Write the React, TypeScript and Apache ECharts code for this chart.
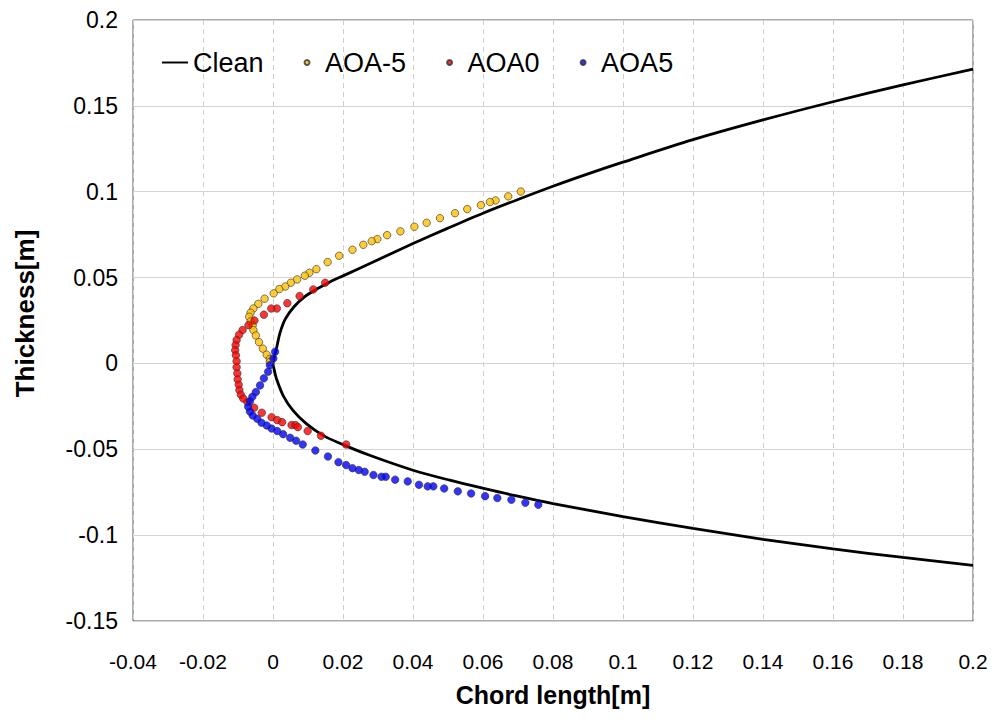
import React, { useEffect, useRef } from "react";
import * as echarts from "echarts";

// Clean airfoil contour (upper surface from trailing side to nose, lower surface from nose)
const cleanUpper: number[][] = [
  [0.2, 0.1714], [0.18, 0.1622], [0.16, 0.1524], [0.14, 0.1418], [0.12, 0.1303],
  [0.1, 0.1172], [0.09, 0.1104], [0.08, 0.1032], [0.07, 0.0955], [0.06, 0.0875],
  [0.05, 0.0788], [0.04, 0.0698], [0.028, 0.0585], [0.02, 0.051], [0.016, 0.0472],
  [0.0125, 0.0433], [0.009, 0.0388], [0.006, 0.033], [0.0035, 0.0258], [0.002, 0.0178],
  [0.001, 0.0088], [0.0004, 0.0042], [0, 0],
];
const cleanLower: number[][] = [
  [0.0004, -0.0042], [0.001, -0.009], [0.0029, -0.0187], [0.0057, -0.0274], [0.0095, -0.0351],
  [0.0143, -0.0419], [0.02, -0.0473], [0.0276, -0.0535], [0.04, -0.0622], [0.0505, -0.068],
  [0.0602, -0.0728], [0.0696, -0.0772], [0.08, -0.0816], [0.1, -0.0892], [0.12, -0.096],
  [0.14, -0.1024], [0.16, -0.108], [0.18, -0.113], [0.2, -0.1176],
];

const aoaM5: number[][] = [
  [0.0708, 0.1001], [0.0672, 0.0973], [0.0636, 0.0949], [0.062, 0.094], [0.0594, 0.0922],
  [0.0555, 0.0899], [0.052, 0.0875], [0.0477, 0.0846], [0.0439, 0.0819], [0.0404, 0.0796],
  [0.0364, 0.0769], [0.0326, 0.0747], [0.0298, 0.0724], [0.0282, 0.0712], [0.0258, 0.0691],
  [0.0227, 0.0662], [0.0189, 0.0627], [0.0156, 0.059], [0.0124, 0.0549], [0.0104, 0.0528],
  [0.0091, 0.0511], [0.0069, 0.0489], [0.0051, 0.047], [0.0035, 0.0448], [0.0018, 0.0433],
  [0.0002, 0.0408], [-0.0024, 0.0377], [-0.0042, 0.0347], [-0.0056, 0.032], [-0.0064, 0.0295],
  [-0.0068, 0.0272], [-0.0064, 0.0245], [-0.0058, 0.0221], [-0.0056, 0.0194], [-0.0049, 0.0163],
  [-0.004, 0.0124], [-0.0029, 0.0086], [-0.0018, 0.0051], [-0.0009, 0.0027], [-0.0009, 0.0008],
];

const aoa0: number[][] = [
  [0.0149, 0.047], [0.0115, 0.0431], [0.0076, 0.0392], [0.0041, 0.0351], [0.0011, 0.032],
  [-0.0005, 0.032], [-0.0026, 0.0284], [-0.0053, 0.025], [-0.007, 0.0223], [-0.0087, 0.0194],
  [-0.0097, 0.0167], [-0.0104, 0.0136], [-0.0107, 0.0107], [-0.0108, 0.0077], [-0.0106, 0.0047],
  [-0.0104, 0.0013], [-0.0104, -0.0022], [-0.0102, -0.0058], [-0.0101, -0.0093], [-0.0098, -0.0124],
  [-0.0096, -0.0155], [-0.0092, -0.0182], [-0.0085, -0.0204], [-0.0073, -0.0225], [-0.0054, -0.0258],
  [-0.0032, -0.0287], [-0.0004, -0.0313], [0.0012, -0.033], [0.0026, -0.0342], [0.0053, -0.0359],
  [0.0064, -0.0359], [0.0071, -0.0371], [0.0099, -0.0394], [0.0137, -0.0421], [0.0209, -0.0472],
];

const aoa5: number[][] = [
  [0.0006, 0.0068], [0.0001, 0.0029], [-0.0009, -0.001], [-0.0014, -0.0048], [-0.0026, -0.0087],
  [-0.0037, -0.0128], [-0.0049, -0.0167], [-0.0059, -0.0194], [-0.0066, -0.0221], [-0.0071, -0.0252],
  [-0.0066, -0.028], [-0.0058, -0.0303], [-0.0045, -0.0322], [-0.0033, -0.0345], [-0.0018, -0.0361],
  [-0.0004, -0.0379], [0.0012, -0.0394], [0.0029, -0.0412], [0.0049, -0.0433], [0.0066, -0.045],
  [0.0085, -0.0472], [0.0121, -0.0507], [0.0157, -0.0542], [0.0187, -0.0575], [0.0209, -0.0592],
  [0.0227, -0.061], [0.0245, -0.0621], [0.0262, -0.0631], [0.0287, -0.065], [0.031, -0.066],
  [0.0322, -0.066], [0.0349, -0.0677], [0.0385, -0.0687], [0.0417, -0.0707], [0.0442, -0.0716],
  [0.0458, -0.0716], [0.0489, -0.0728], [0.0528, -0.0745], [0.0566, -0.0757], [0.0606, -0.0773],
  [0.0641, -0.0784], [0.0681, -0.0794], [0.0721, -0.0811], [0.0758, -0.0823],
];

const seriesNames = ["Clean", "AOA-5", "AOA0", "AOA5"];
const xRange = { min: -0.04, max: 0.2, interval: 0.02 };
const yRange = { min: -0.15, max: 0.2, interval: 0.05 };

const fmt = (v: number) => String(Number(v.toFixed(2)));

export default function App() {
  const ref = useRef<HTMLDivElement>(null);
  useEffect(() => {
    const chart = echarts.init(ref.current!, null, { renderer: "svg" });
    const font = "'Liberation Sans', Arial, sans-serif";
    const scatterBase = (name: string, color: string, data: number[][]) => ({
      name,
      type: "scatter",
      data,
      symbol: "circle",
      symbolSize: 7.5,
      itemStyle: { color, borderColor: "#333333", borderWidth: 0.8 },
      z: 3,
    });
    chart.setOption({
      animation: false,
      backgroundColor: "#ffffff",
      grid: {
        left: 133,
        right: 26,
        top: 20,
        bottom: 100,
        show: true,
        borderColor: "#595959",
        borderWidth: 1,
        backgroundColor: "transparent",
      },
      legend: {
        left: 157,
        top: 44,
        itemWidth: 26,
        itemHeight: 5,
        itemGap: 40,
        textStyle: { fontFamily: font, fontSize: 27, color: "#000" },
        data: [
          { name: seriesNames[0], icon: "path://M0,0 L40,0 L40,3 L0,3 Z" },
          { name: seriesNames[1], icon: "circle" },
          { name: seriesNames[2], icon: "circle" },
          { name: seriesNames[3], icon: "circle" },
        ],
      },
      xAxis: {
        type: "value",
        min: xRange.min,
        max: xRange.max,
        interval: xRange.interval,
        name: "Chord length[m]",
        nameLocation: "middle",
        nameGap: 61,
        nameTextStyle: { fontFamily: font, fontWeight: "bold", fontSize: 25, color: "#000" },
        axisLine: { show: false, onZero: false },
        axisTick: { show: false },
        axisLabel: { formatter: fmt, fontFamily: font, fontSize: 21, color: "#000", margin: 30 },
        splitLine: { show: true, lineStyle: { color: "#cfcfcf", type: [5, 4], width: 1 } },
      },
      yAxis: {
        type: "value",
        min: yRange.min,
        max: yRange.max,
        interval: yRange.interval,
        name: "Thickness[m]",
        nameLocation: "middle",
        nameGap: 95,
        nameTextStyle: {
          fontFamily: font,
          fontWeight: "bold",
          fontSize: 26,
          color: "#000",
          padding: [0, 0, 0, 14],
        },
        axisLine: { show: false, onZero: false },
        axisTick: { show: false },
        axisLabel: { formatter: fmt, fontFamily: font, fontSize: 23, color: "#000", margin: 15 },
        splitLine: { show: true, lineStyle: { color: "#d4d4d4", type: "solid", width: 1 } },
      },
      series: [
        {
          name: seriesNames[0],
          type: "line",
          data: [...cleanUpper, ...cleanLower],
          symbol: "none",
          smooth: 0.3,
          lineStyle: { color: "#000", width: 2.8 },
          itemStyle: { color: "#000" },
          z: 2,
        },
        scatterBase(seriesNames[1], "#FFC000", aoaM5),
        scatterBase(seriesNames[2], "#FF0000", aoa0),
        scatterBase(seriesNames[3], "#0000FF", aoa5),
      ],
    });
    return () => chart.dispose();
  }, []);
  return (
    <div
      ref={ref}
      style={{ position: "fixed", left: 0, top: 0, width: 999, height: 721, background: "#fff" }}
    />
  );
}
